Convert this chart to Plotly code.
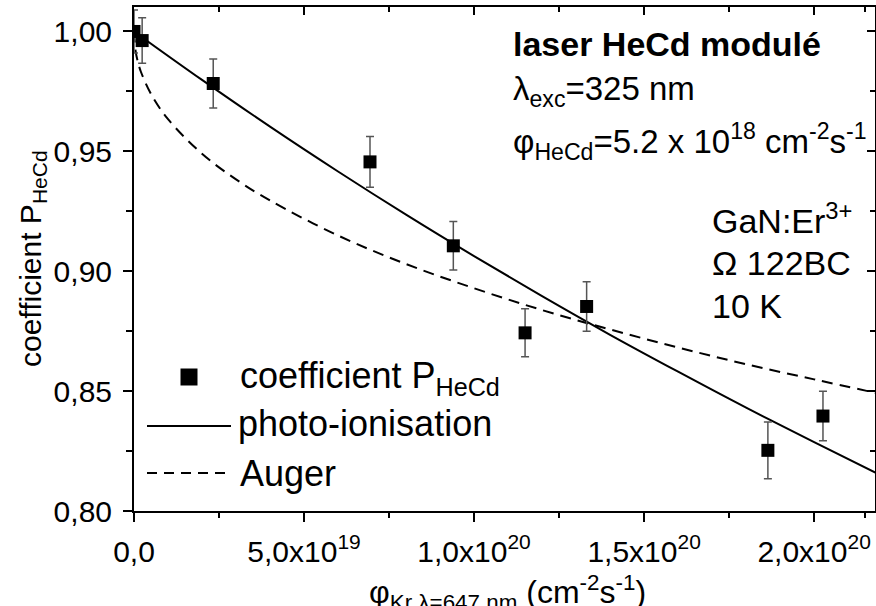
import plotly.graph_objects as go

# measured points (flux in cm^-2 s^-1)
flux = [0.0, 2.4e18, 2.33e19, 6.94e19, 9.39e19, 1.150e20, 1.331e20, 1.864e20, 2.026e20]
p_hecd = [1.000, 0.9962, 0.9783, 0.9456, 0.9106, 0.8743, 0.8853, 0.8253, 0.8396]
p_err = [0.009, 0.0095, 0.0102, 0.0106, 0.0101, 0.0100, 0.0103, 0.0118, 0.0103]

# fitted curves
photo_x = [0, 0.2e20, 0.4e20, 0.6e20, 0.8e20, 1.0e20, 1.2e20, 1.4e20, 1.6e20, 1.8e20, 2.0e20, 2.18e20]
photo_y = [1.000, 0.9798, 0.9603, 0.9416, 0.9236, 0.9063, 0.8896, 0.8735, 0.8581, 0.8431, 0.8287, 0.8160]
auger_x = [0, 0.005e20, 0.01e20, 0.02e20, 0.05e20, 0.1e20, 0.2e20, 0.3e20, 0.4e20, 0.6e20,
           0.8e20, 1.0e20, 1.2e20, 1.4e20, 1.6e20, 1.8e20, 2.0e20, 2.18e20]
auger_y = [1.000, 0.9916, 0.9881, 0.9833, 0.9739, 0.9634, 0.9490, 0.9383, 0.9295, 0.9149,
           0.9030, 0.8929, 0.8838, 0.8757, 0.8682, 0.8612, 0.8549, 0.8493]

x_ticks = [0, 5e19, 1e20, 1.5e20, 2e20]
x_ticktext = ["0,0", "5,0x10<sup>19</sup>", "1,0x10<sup>20</sup>", "1,5x10<sup>20</sup>", "2,0x10<sup>20</sup>"]
x_minor = [2.5e19, 7.5e19, 1.25e20, 1.75e20, 2.15e20]
y_ticks = [0.80, 0.85, 0.90, 0.95, 1.00]
y_ticktext = ["0,80", "0,85", "0,90", "0,95", "1,00"]
y_minor = [0.825, 0.875, 0.925, 0.975]

X_RANGE = [0, 2.179e20]
Y_RANGE = [0.80, 1.0102]

FONT = "Liberation Sans, Arial, sans-serif"
W, H = 876, 606
L, R, T, B = 134, 875, 7, 511


def px(x):
    return (x - L) / (R - L)


def py(y):
    return (B - y) / (B - T)


fig = go.Figure()
fig.add_trace(go.Scatter(x=auger_x, y=auger_y, mode="lines", line_shape="spline",
                         line=dict(color="black", width=2, dash="11px,7px"), showlegend=False))
fig.add_trace(go.Scatter(x=photo_x, y=photo_y, mode="lines", line_shape="spline",
                         line=dict(color="black", width=2), showlegend=False))
fig.add_trace(go.Scatter(x=flux, y=p_hecd, mode="markers",
                         marker=dict(symbol="square", size=13, color="black"),
                         error_y=dict(type="data", array=p_err, color="#555555", thickness=1.5, width=4),
                         showlegend=False))
# empty trace so the mirrored top/right axes get drawn
fig.add_trace(go.Scatter(x=[], y=[], xaxis="x2", yaxis="y2", showlegend=False, hoverinfo="skip"))

axis_common = dict(showgrid=False, zeroline=False, showline=True, linecolor="black", linewidth=2,
                   tickcolor="black", tickwidth=1.5, tickmode="array")
fig.update_layout(
    width=W, height=H,
    margin=dict(l=L, r=W - R, t=T, b=H - B),
    paper_bgcolor="white", plot_bgcolor="white",
    font=dict(family=FONT, color="black"),
    xaxis=dict(**axis_common, range=X_RANGE, tickvals=x_ticks, ticktext=x_ticktext,
               ticks="outside", ticklen=9, tickfont=dict(size=30), ticklabelstandoff=4,
               minor=dict(tickmode="array", tickvals=x_minor, ticks="outside", ticklen=5,
                          tickcolor="black", tickwidth=1.5)),
    yaxis=dict(**axis_common, range=Y_RANGE, tickvals=y_ticks, ticktext=y_ticktext,
               ticks="outside", ticklen=9, tickfont=dict(size=30), ticklabelstandoff=5,
               minor=dict(tickmode="array", tickvals=y_minor, ticks="outside", ticklen=6,
                          tickcolor="black", tickwidth=1.5)),
    xaxis2=dict(**axis_common, range=X_RANGE, tickvals=x_ticks, overlaying="x", side="top",
                ticks="inside", ticklen=8, showticklabels=False,
                minor=dict(tickmode="array", tickvals=x_minor, ticks="inside", ticklen=5,
                           tickcolor="black", tickwidth=1.5)),
    yaxis2=dict(**axis_common, range=Y_RANGE, tickvals=y_ticks, overlaying="y", side="right",
                ticks="inside", ticklen=8, showticklabels=False,
                minor=dict(tickmode="array", tickvals=y_minor, ticks="inside", ticklen=5,
                           tickcolor="black", tickwidth=1.5)),
)

annotations = [
    # axis titles
    dict(text="coefficient P<sub>HeCd</sub>", x=px(32), y=0.5, textangle=-90, xanchor="center",
         font=dict(size=30)),
    dict(text="φ<sub>Kr λ=647 nm</sub> (cm<sup>-2</sup>s<sup>-1</sup>)", x=px(507), y=py(592),
         xanchor="center", font=dict(size=32)),
    # info text
    dict(text="<b>laser HeCd modulé</b>", x=px(511), y=py(44), font=dict(size=34)),
    dict(text="λ<sub>exc</sub>=325 nm", x=px(511), y=py(91), font=dict(size=33)),
    dict(text="φ<sub>HeCd</sub>=5.2 x 10<sup>18</sup> cm<sup>-2</sup>s<sup>-1</sup>", x=px(511), y=py(141),
         font=dict(size=33)),
    dict(text="GaN:Er<sup>3+</sup>", x=px(710), y=py(219), font=dict(size=34)),
    dict(text="Ω 122BC", x=px(710), y=py(263), font=dict(size=34)),
    dict(text="10 K", x=px(710), y=py(306), font=dict(size=34)),
    # legend labels
    dict(text="coefficient P<sub>HeCd</sub>", x=px(238), y=py(378), font=dict(size=36)),
    dict(text="photo-ionisation", x=px(236), y=py(423), font=dict(size=36)),
    dict(text="Auger", x=px(238), y=py(473), font=dict(size=36)),
]
for a in annotations:
    a.setdefault("xanchor", "left")
    a.update(xref="paper", yref="paper", yanchor="middle", showarrow=False,
             font=dict(family=FONT, color="black", **a["font"]))
fig.update_layout(annotations=annotations)

# legend symbols
fig.add_shape(type="rect", xref="paper", yref="paper", x0=px(180.5), x1=px(197.5), y0=py(385.5), y1=py(368.5),
              fillcolor="black", line=dict(width=0))
fig.add_shape(type="line", xref="paper", yref="paper", x0=px(147), x1=px(231), y0=py(426), y1=py(426),
              line=dict(color="black", width=2))
fig.add_shape(type="line", xref="paper", yref="paper", x0=px(147), x1=px(231), y0=py(473), y1=py(473),
              line=dict(color="black", width=2, dash="10px,7px"))

# drop the default page margin so the figure sits at the window's corner
fig.write_html("out.html", config={"displayModeBar": False},
               post_script="document.body.style.margin='0';")
